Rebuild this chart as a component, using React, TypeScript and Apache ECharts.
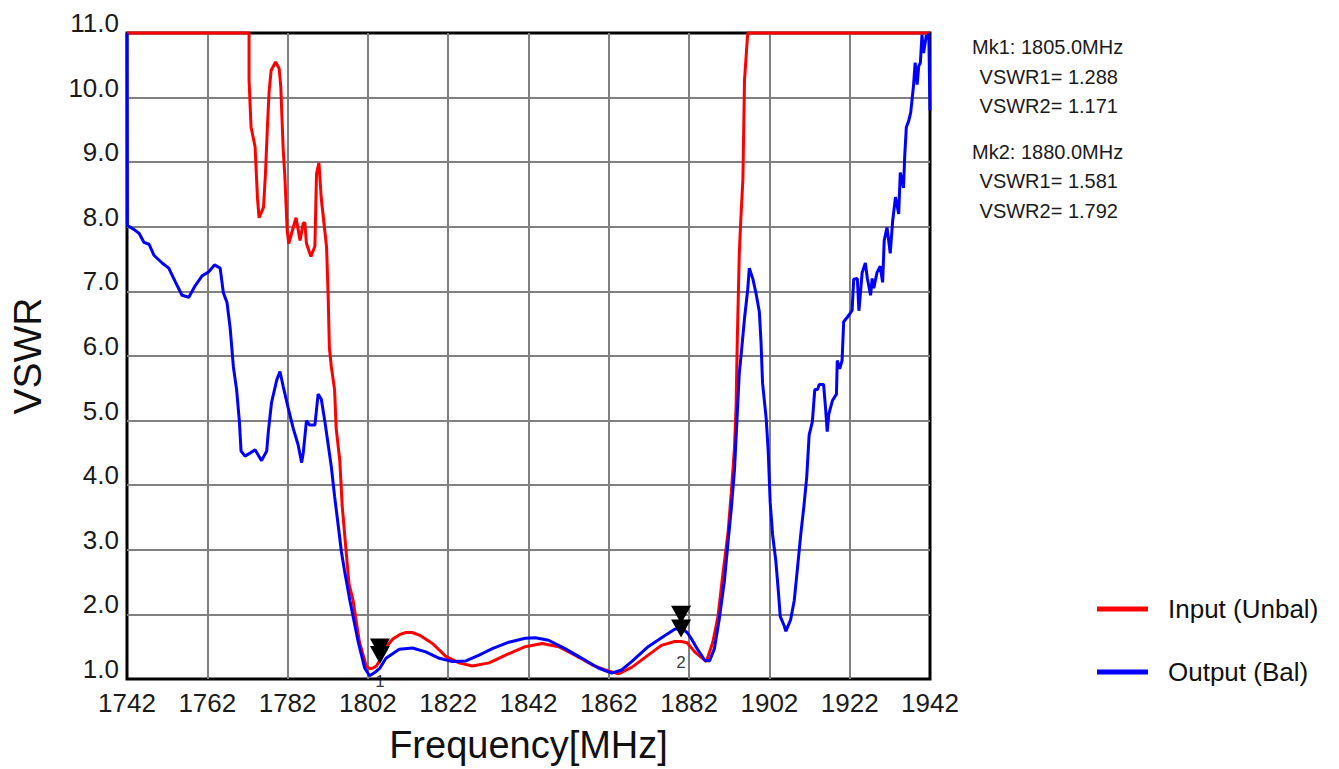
import React, { useEffect, useRef } from "react";
import * as echarts from "echarts";

// ---- Data (frequency in MHz, VSWR) ----
const FREQ_START = 1742;
const FREQ_END = 1942;
const FREQ_STEP = 20;
const VSWR_MIN = 1;
const VSWR_MAX = 11;

const inputName = "Input (Unbal)";
const outputName = "Output (Bal)";

const inputCurve: [number, number][] = [
  [1742, 11], [1772.4, 11], [1772.4, 10.27], [1772.9, 9.54], [1773.9, 9.24],
  [1774.5, 8.44], [1774.9, 8.14], [1776.0, 8.3], [1776.5, 8.84], [1777.0, 9.59],
  [1777.4, 10.1], [1777.9, 10.42], [1779.0, 10.55], [1779.9, 10.45], [1780.3, 10.17],
  [1780.9, 9.2], [1781.3, 8.8], [1781.9, 7.94], [1782.3, 7.74], [1783.0, 7.9],
  [1784.1, 8.14], [1785.1, 7.79], [1785.9, 8.06], [1786.3, 8.06], [1786.7, 7.74],
  [1787.8, 7.54], [1788.8, 7.7], [1789.2, 8.82], [1789.8, 8.99], [1790.4, 8.43],
  [1791.0, 8.09], [1791.7, 7.69], [1792.1, 6.94], [1792.4, 6.13], [1792.9, 5.83],
  [1793.7, 5.48], [1794.1, 4.88], [1795.0, 4.38], [1795.6, 3.68], [1796.5, 3.03],
  [1797.3, 2.47], [1798.3, 2.22], [1799.9, 1.57], [1801.6, 1.2], [1802.4, 1.16],
  [1803.3, 1.17], [1804.1, 1.2], [1805, 1.29], [1806, 1.42], [1807, 1.53],
  [1808.2, 1.62], [1810, 1.69], [1811.5, 1.72], [1813, 1.72], [1814.8, 1.68],
  [1818.1, 1.55], [1821.4, 1.35], [1824.7, 1.25], [1828, 1.2], [1832.2, 1.25],
  [1836.3, 1.37], [1841.2, 1.5], [1845.4, 1.55], [1849.5, 1.5], [1853.6, 1.37],
  [1857.8, 1.22], [1861.1, 1.14], [1864.4, 1.08], [1867.7, 1.18], [1871.8, 1.37],
  [1875.1, 1.52], [1878.4, 1.58], [1880, 1.58], [1881.5, 1.56], [1883.4, 1.42],
  [1885.1, 1.33], [1886.3, 1.27], [1887.9, 1.57], [1889.2, 1.97], [1890.4, 2.62],
  [1891.7, 3.27], [1892.5, 3.88], [1893.3, 4.58], [1893.7, 5.23], [1894.0, 6.23],
  [1894.5, 7.59], [1894.9, 8.14], [1895.4, 8.74], [1895.8, 10.27], [1896.6, 11],
  [1942, 11],
];

const outputCurve: [number, number][] = [
  [1742, 11], [1742.1, 8.02], [1743.7, 7.96], [1745, 7.9], [1746.2, 7.76],
  [1747.5, 7.73], [1748.7, 7.56], [1750.75, 7.44], [1752.4, 7.36], [1754.1, 7.14],
  [1755.7, 6.94], [1757.4, 6.91], [1759, 7.09], [1760.7, 7.24], [1762.3, 7.3],
  [1763.8, 7.41], [1765.2, 7.36], [1766, 6.98], [1766.9, 6.83], [1767.7, 6.43],
  [1768.5, 5.83], [1769.3, 5.48], [1770, 4.98], [1770.4, 4.53], [1771.4, 4.45],
  [1772.7, 4.5], [1773.9, 4.55], [1775.5, 4.38], [1776.8, 4.53], [1777.2, 4.83],
  [1778, 5.28], [1779.3, 5.63], [1780.1, 5.76], [1780.9, 5.53], [1782.2, 5.18],
  [1783.4, 4.88], [1784.6, 4.63], [1785.5, 4.35], [1785.9, 4.5], [1786.7, 5.0],
  [1787.5, 4.93], [1788.8, 4.93], [1789.6, 5.41], [1790.4, 5.33], [1791.3, 4.98],
  [1792.1, 4.63], [1792.9, 4.28], [1793.7, 3.83], [1794.6, 3.38], [1795.4, 2.97],
  [1796.2, 2.67], [1797.5, 2.22], [1799.6, 1.57], [1801.2, 1.17], [1802.4, 1.05],
  [1803.7, 1.1], [1805, 1.17], [1806.5, 1.32], [1809.8, 1.46], [1813.1, 1.48],
  [1816.4, 1.42], [1819.8, 1.32], [1823.1, 1.27], [1826.4, 1.28], [1829.7, 1.37],
  [1833, 1.47], [1837.1, 1.57], [1841.2, 1.63], [1843.7, 1.64], [1847, 1.6],
  [1851.1, 1.47], [1855.3, 1.32], [1859.4, 1.17], [1862.7, 1.09], [1865.2, 1.14],
  [1867.7, 1.27], [1871.8, 1.5], [1875.9, 1.67], [1878.4, 1.77], [1880, 1.79],
  [1881.5, 1.72], [1882.6, 1.62], [1884.2, 1.45], [1885.9, 1.29], [1887.1, 1.28],
  [1888.3, 1.47], [1889.5, 1.92], [1890.8, 2.52], [1891.7, 3.12], [1892.5, 3.63],
  [1893.3, 4.23], [1893.7, 4.73], [1894.5, 5.73], [1894.9, 5.98], [1895.8, 6.58],
  [1896.6, 7.03], [1897, 7.36], [1897.9, 7.19], [1898.7, 6.96], [1899.5, 6.68],
  [1899.9, 6.23], [1900.3, 5.58], [1901.2, 5.03], [1901.7, 4.53], [1902.2, 3.73],
  [1902.8, 3.23], [1903.6, 2.83], [1904.2, 2.38], [1904.7, 1.97], [1905.7, 1.82],
  [1906.1, 1.74], [1907.3, 1.92], [1908.2, 2.22], [1909, 2.72], [1909.8, 3.23],
  [1910.6, 3.68], [1911.3, 4.13], [1911.9, 4.78], [1912.7, 4.98], [1913.3, 5.48],
  [1914.0, 5.48], [1914.4, 5.56], [1915.5, 5.56], [1916, 5.18], [1916.4, 4.83],
  [1916.8, 5.1], [1917.7, 5.31], [1918.7, 5.41], [1918.9, 5.93], [1919.5, 5.8],
  [1920.1, 5.93], [1920.5, 6.53], [1921.8, 6.63], [1922.6, 6.71], [1923, 7.19],
  [1923.9, 7.2], [1924.3, 6.7], [1925.1, 7.29], [1925.9, 7.44], [1926.4, 7.2],
  [1927.2, 6.94], [1927.6, 7.2], [1928, 7.05], [1928.8, 7.29], [1929.6, 7.39],
  [1930.2, 7.14], [1930.6, 7.79], [1931.3, 7.99], [1932.1, 7.59], [1932.7, 8.09],
  [1933.4, 8.46], [1934.2, 8.2], [1934.6, 8.84], [1935.4, 8.6], [1935.7, 9.09],
  [1936.1, 9.54], [1936.7, 9.64], [1937.2, 9.77], [1937.9, 10.19], [1938.3, 10.54],
  [1938.8, 10.2], [1939.2, 10.49], [1939.6, 10.54], [1940, 10.97], [1940.4, 10.69],
  [1941.1, 10.97], [1941.4, 10.9], [1941.7, 11], [1942, 9.8],
];

// Markers
const markerFreqs = [1805.0, 1880.0];
const markerInput = [1.288, 1.581];
const markerOutput = [1.171, 1.792];
const markerLabels = ["1", "2"];

const markerText = [
  `Mk1: ${markerFreqs[0].toFixed(1)}MHz`,
  ` VSWR1= ${markerInput[0].toFixed(3)}`,
  ` VSWR2= ${markerOutput[0].toFixed(3)}`,
  `Mk2: ${markerFreqs[1].toFixed(1)}MHz`,
  ` VSWR1= ${markerInput[1].toFixed(3)}`,
  ` VSWR2= ${markerOutput[1].toFixed(3)}`,
];

const FONT = "'Liberation Sans', Arial, Helvetica, sans-serif";
const toX = (f: number) => f - FREQ_START;

export default function App() {
  const ref = useRef<HTMLDivElement>(null);

  useEffect(() => {
    if (!ref.current) return;
    const chart = echarts.init(ref.current, undefined, { renderer: "svg" });

    const markerSeries = (vals: number[], name: string) => ({
      type: "scatter",
      name,
      data: markerFreqs.map((f, i) => [toX(f), vals[i]]),
      symbol: "triangle",
      symbolRotate: 180,
      symbolSize: [20, 18],
      symbolOffset: [0, -13],
      itemStyle: { color: "#000", opacity: 1 },
      z: 5,
      silent: true,
    });

    const infoLines = markerText.map((t, i) => ({
      type: "text",
      left: i % 3 === 0 ? 972 : 974,
      top: [37, 67, 96, 142, 171, 201][i],
      style: { text: t, font: `20px ${FONT}`, fill: "#1a1a1a" },
    }));

    chart.setOption({
      animation: false,
      backgroundColor: "#fff",
      grid: {
        left: 123,
        top: 33,
        width: 807,
        height: 665,
        show: true,
        borderColor: "#000",
        borderWidth: 3,
        backgroundColor: "transparent",
      },
      xAxis: {
        type: "value",
        min: 0,
        max: FREQ_END - FREQ_START,
        interval: FREQ_STEP,
        name: "Frequency[MHz]",
        nameLocation: "middle",
        nameGap: 47,
        nameTextStyle: { fontSize: 38, fontFamily: FONT, color: "#111" },
        axisLine: { show: false },
        axisTick: { show: false },
        axisLabel: {
          formatter: (v: number) => String(v + FREQ_START),
          fontSize: 26,
          fontFamily: FONT,
          color: "#1a1a1a",
          margin: 11,
        },
        splitLine: {
          show: true,
          showMinLine: false,
          showMaxLine: false,
          lineStyle: { color: "#808080", width: 2 },
        },
      },
      yAxis: {
        type: "value",
        min: VSWR_MIN,
        max: VSWR_MAX,
        interval: 1,
        name: "VSWR",
        nameLocation: "middle",
        nameGap: 80,
        nameRotate: 90,
        nameTextStyle: { fontSize: 39, fontFamily: FONT, color: "#111" },
        axisLine: { show: false },
        axisTick: { show: false },
        axisLabel: {
          formatter: (v: number) => v.toFixed(1),
          fontSize: 26,
          fontFamily: FONT,
          color: "#1a1a1a",
          margin: 8,
          verticalAlign: "bottom",
          lineHeight: 20,
        },
        splitLine: {
          show: true,
          showMinLine: false,
          showMaxLine: false,
          lineStyle: { color: "#808080", width: 2 },
        },
      },
      legend: {
        data: [inputName, outputName],
        orient: "vertical",
        left: 1092,
        top: 591,
        itemWidth: 51,
        itemHeight: 5,
        itemGap: 37,
        icon: "rect",
        textStyle: {
          fontSize: 26,
          fontFamily: FONT,
          color: "#111",
          padding: [0, 0, 0, 15],
        },
      },
      graphic: infoLines,
      series: [
        {
          type: "line",
          name: inputName,
          data: inputCurve.map(([f, v]) => [toX(f), v]),
          showSymbol: false,
          symbol: "none",
          clip: false,
          lineStyle: { color: "#ff0000", width: 3 },
          itemStyle: { color: "#ff0000" },
          z: 2,
        },
        {
          type: "line",
          name: outputName,
          data: outputCurve.map(([f, v]) => [toX(f), v]),
          showSymbol: false,
          symbol: "none",
          clip: false,
          lineStyle: { color: "#0000ff", width: 3 },
          itemStyle: { color: "#0000ff" },
          z: 3,
        },
        markerSeries(markerInput, "mk-in"),
        markerSeries(markerOutput, "mk-out"),
        {
          type: "scatter",
          name: "mk-label",
          data: markerFreqs.map((f, i) => [toX(f), markerInput[i]]),
          symbolSize: 1,
          itemStyle: { color: "rgba(0,0,0,0)" },
          silent: true,
          z: 6,
          label: {
            show: true,
            position: "inside",
            offset: [0, 21],
            formatter: (p: any) => markerLabels[p.dataIndex],
            fontSize: 17,
            fontFamily: FONT,
            color: "#000",
          },
        },
      ],
    });

    return () => chart.dispose();
  }, []);

  return (
    <div
      ref={ref}
      style={{ position: "fixed", left: 0, top: 0, width: 1339, height: 769, background: "#fff" }}
    />
  );
}
